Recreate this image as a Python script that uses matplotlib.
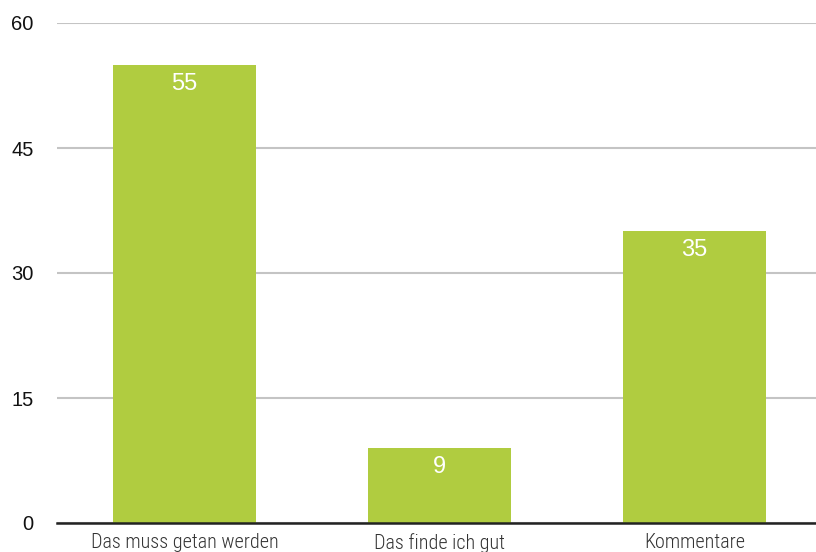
import matplotlib
matplotlib.use("Agg")
import matplotlib.pyplot as plt

categories = ["Das muss getan werden", "Das finde ich gut", "Kommentare"]
values = [55, 9, 35]
yticks = [0, 15, 30, 45, 60]

fig = plt.figure(figsize=(8.16, 5.52), dpi=100)
ax = fig.add_axes([57/816, 29/552, 759/816, 500/552])
x = list(range(len(categories)))
ax.bar(x, values, width=0.56, color="#b0cc40", zorder=3)
ax.set_xlim(-0.5, -0.5 + 759/255)
ax.set_ylim(0, 60)
ax.set_yticks(yticks)
ax.set_yticklabels([str(t) for t in yticks], fontsize=14.5,
                   family=["Liberation Sans", "DejaVu Sans"], color="#111111")
ax.yaxis.grid(True, color="#c4c4c4", linewidth=1.5, zorder=0)
ax.set_xticks(x)
ax.set_xticklabels(categories, fontsize=14.5, family=["Roboto Condensed", "DejaVu Sans"],
                   fontweight="light", color="#333333")
ax.tick_params(axis="y", length=0, pad=17)
ax.tick_params(axis="x", length=0, pad=7)
for s in ["top", "right", "left"]:
    ax.spines[s].set_visible(False)
ax.spines["bottom"].set_linewidth(1.8)
ax.spines["bottom"].set_color("#222222")
ax.spines["bottom"].set_zorder(4)
for xi, v in zip(x, values):
    ax.annotate(str(v), (xi, v), xytext=(0, -19), textcoords="offset pixels",
                ha="center", va="center", color="white", fontsize=17,
                family=["Liberation Sans", "DejaVu Sans"], zorder=5)
fig.savefig("out.png", dpi=100)
